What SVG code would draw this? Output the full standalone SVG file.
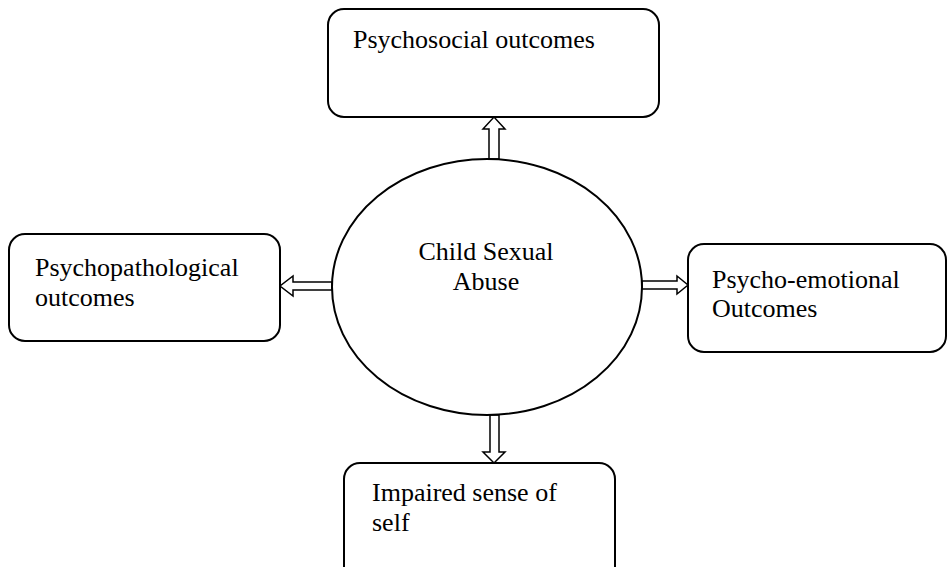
<svg xmlns="http://www.w3.org/2000/svg" width="948" height="567" viewBox="0 0 948 567">
<style>
.box{fill:#fff;stroke:#000;stroke-width:2}
.arr{fill:#fff;stroke:#000;stroke-width:1.5;stroke-linejoin:miter}
text{font-family:"Liberation Serif","Times New Roman",serif;font-size:26px;fill:#000}
</style>
<rect width="948" height="567" fill="#fff"/>
<g id="connectors">
<polygon class="arr" points="489,159 489,129 483,129 494,117 505,129 499,129 499,159"/>
<polygon class="arr" points="490,415 490,452 483,452 494,463 505,452 499,452 499,415"/>
<polygon class="arr" points="332,282 293,282 293,276 280,286 293,296 293,290 332,290"/>
<polygon class="arr" points="642,281 677,281 677,276 688,285 677,294 677,289 642,289"/>
</g>
<g id="center">
<ellipse class="box" cx="487" cy="287" rx="155" ry="128"/>
<text x="486" y="260" text-anchor="middle">Child Sexual</text>
<text x="486" y="290" text-anchor="middle">Abuse</text>
</g>
<g id="psychosocial">
<rect class="box" x="328" y="9" width="331" height="108" rx="16"/>
<text x="353" y="48">Psychosocial outcomes</text>
</g>
<g id="psychopathological">
<rect class="box" x="9" y="234" width="271" height="107" rx="16"/>
<text x="35" y="276">Psychopathological</text>
<text x="35" y="306">outcomes</text>
</g>
<g id="psychoemotional">
<rect class="box" x="688" y="244" width="258" height="108" rx="16"/>
<text x="712" y="288">Psycho-emotional</text>
<text x="712" y="317">Outcomes</text>
</g>
<g id="impaired">
<rect class="box" x="344" y="463" width="271" height="120" rx="16"/>
<text x="372" y="501">Impaired sense of</text>
<text x="372" y="531">self</text>
</g>
</svg>
